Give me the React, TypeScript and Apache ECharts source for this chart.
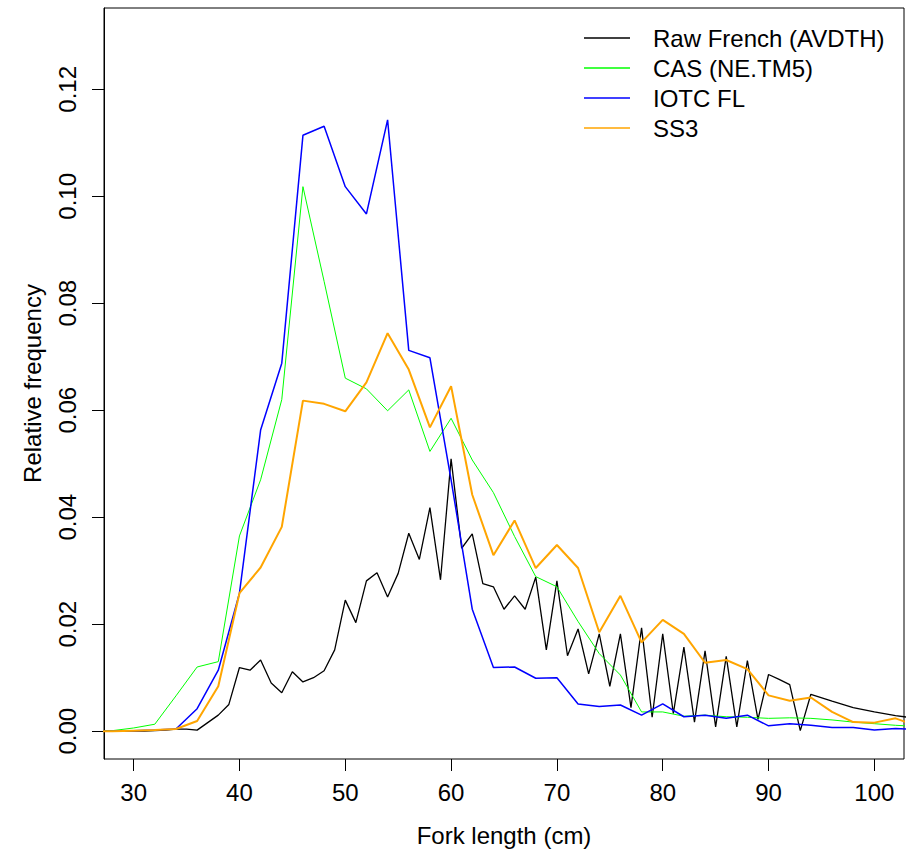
import React, { useEffect, useRef } from "react";
import * as echarts from "echarts";

// Fork length (cm) at 1 cm resolution for the raw French samples
const rawLengths = [
  26, 27, 28, 29, 30, 31, 32, 33, 34, 35, 36, 37, 38, 39, 40, 41, 42, 43, 44, 45,
  46, 47, 48, 49, 50, 51, 52, 53, 54, 55, 56, 57, 58, 59, 60, 61, 62, 63, 64, 65,
  66, 67, 68, 69, 70, 71, 72, 73, 74, 75, 76, 77, 78, 79, 80, 81, 82, 83, 84, 85,
  86, 87, 88, 89, 90, 91, 92, 93, 94, 96, 98, 100, 102, 104,
];
const rawFrench = [
  0, 0, 0, 0, 0, 0, 0.0001, 0.0002, 0.0004, 0.0004, 0.0002, 0.0016, 0.003, 0.005, 0.0119, 0.0114, 0.0133, 0.009, 0.0072, 0.0111,
  0.0092, 0.01, 0.0113, 0.0152, 0.0245, 0.0203, 0.0281, 0.0296, 0.0251, 0.0295, 0.037, 0.0321, 0.0418, 0.0283, 0.0509, 0.0342, 0.0369, 0.0276, 0.027, 0.0228,
  0.0253, 0.0228, 0.0288, 0.0152, 0.0281, 0.0141, 0.0191, 0.0107, 0.0182, 0.0084, 0.0182, 0.0044, 0.0193, 0.0026, 0.0182, 0.0033, 0.0157, 0.0017, 0.015, 0.0008,
  0.014, 0.0008, 0.0132, 0.0022, 0.0106, 0.0097, 0.0087, 0.0001, 0.0069, 0.0056, 0.0044, 0.0036, 0.0029, 0.0024,
];

// Fork length (cm) at 2 cm resolution for the other estimates
const binLengths = [
  26, 28, 30, 32, 34, 36, 38, 40, 42, 44, 46, 48, 50, 52, 54, 56, 58, 60, 62, 64,
  66, 68, 70, 72, 74, 76, 78, 80, 82, 84, 86, 88, 90, 92, 94, 96, 98, 100, 102, 104,
];
const casNeTm5 = [
  0, 0.0001, 0.0006, 0.0013, 0.0066, 0.012, 0.013, 0.0365, 0.047, 0.062, 0.1018, 0.0841, 0.066, 0.064, 0.0599, 0.0638, 0.0523, 0.0585, 0.0507, 0.0446,
  0.0364, 0.0289, 0.027, 0.0205, 0.0145, 0.0105, 0.0036, 0.0036, 0.0028, 0.003, 0.0027, 0.0026, 0.0024, 0.0025, 0.0024, 0.0021, 0.0017, 0.0014, 0.0011, 0.0009,
];
const iotcFl = [
  0, 0, 0.0001, 0.0002, 0.0004, 0.0042, 0.0114, 0.0258, 0.0563, 0.0688, 0.1114, 0.1131, 0.1018, 0.0967, 0.1143, 0.0712, 0.0698, 0.047, 0.0228, 0.0119,
  0.012, 0.0099, 0.01, 0.0051, 0.0046, 0.0049, 0.003, 0.0051, 0.0027, 0.003, 0.0024, 0.003, 0.001, 0.0014, 0.0011, 0.0007, 0.0007, 0.0002, 0.0005, 0.0003,
];
const ss3 = [
  0, 0, 0.0001, 0.0002, 0.0004, 0.0019, 0.0084, 0.0258, 0.0306, 0.0382, 0.0618, 0.0612, 0.0598, 0.0652, 0.0744, 0.0676, 0.0568, 0.0645, 0.0442, 0.0329,
  0.0394, 0.0305, 0.0348, 0.0305, 0.0185, 0.0253, 0.0166, 0.0208, 0.0182, 0.0128, 0.0133, 0.0116, 0.0067, 0.0057, 0.0063, 0.0036, 0.0017, 0.0016, 0.0024, 0.001,
];

const xTicks = [30, 40, 50, 60, 70, 80, 90, 100];
const yTicks = [0, 0.02, 0.04, 0.06, 0.08, 0.1, 0.12];
const X_MIN = 27.2;
const X_MAX = 102.8;
const Y_MIN = -0.0052;
const Y_MAX = 0.1352;

const FONT = "'Liberation Sans', Arial, Helvetica, sans-serif";
const TICK_LEN = 12;

const pairs = (xs: number[], ys: number[]) => xs.map((x, i) => [x, ys[i]]);

export default function App() {
  const ref = useRef<HTMLDivElement>(null);
  useEffect(() => {
    if (!ref.current) return;
    const chart = echarts.init(ref.current, null, { renderer: "svg" });
    const mk = (name: string, xs: number[], ys: number[], color: string, width: number) => ({
      name,
      type: "line",
      xAxisIndex: 0,
      yAxisIndex: 0,
      data: pairs(xs, ys),
      symbol: "none",
      showSymbol: false,
      clip: true,
      lineStyle: { color, width },
      itemStyle: { color },
    });
    chart.setOption({
      animation: false,
      textStyle: { fontFamily: FONT },
      grid: [
        {
          left: 104,
          right: 2,
          top: 8,
          bottom: 100,
          show: true,
          borderColor: "#000",
          borderWidth: 1,
          backgroundColor: "transparent",
        },
        // second grid reaching down over the tick band, carrying the bottom axis
        {
          left: 104,
          right: 2,
          top: 8,
          bottom: 100 - TICK_LEN,
          show: false,
        },
      ],
      legend: {
        orient: "vertical",
        left: 584,
        top: 26,
        padding: 0,
        icon: "rect",
        itemWidth: 46,
        itemHeight: 1.5,
        itemGap: 6,
        data: ["Raw French (AVDTH)", "CAS (NE.TM5)", "IOTC FL", "SS3"],
        textStyle: {
          fontFamily: FONT,
          fontSize: 24,
          lineHeight: 24,
          color: "#000",
          padding: [0, 0, 0, 18],
        },
      },
      xAxis: [
        {
          gridIndex: 0,
          type: "value",
          min: X_MIN,
          max: X_MAX,
          show: false,
          axisLine: { show: false, onZero: false },
          splitLine: { show: false },
        },
        {
          gridIndex: 1,
          type: "value",
          min: X_MIN,
          max: X_MAX,
          name: "Fork length (cm)",
          nameLocation: "middle",
          nameGap: 52,
          nameTextStyle: { fontFamily: FONT, fontSize: 24, color: "#000" },
          axisLine: { show: false, onZero: false },
          splitLine: { show: false },
          axisTick: {
            show: true,
            inside: true,
            length: TICK_LEN,
            customValues: xTicks,
            lineStyle: { color: "#000", width: 1 },
          },
          axisLabel: {
            customValues: xTicks,
            margin: 9,
            fontFamily: FONT,
            fontSize: 24,
            color: "#000",
          },
        },
      ],
      yAxis: [
        {
          gridIndex: 0,
          type: "value",
          min: Y_MIN,
          max: Y_MAX,
          name: "Relative frequency",
          nameLocation: "middle",
          nameRotate: 90,
          nameGap: 60,
          nameTextStyle: { fontFamily: FONT, fontSize: 24, color: "#000" },
          axisLine: { show: true, onZero: false, lineStyle: { color: "#000", width: 1 } },
          splitLine: { show: false },
          axisTick: {
            show: true,
            inside: false,
            length: TICK_LEN,
            customValues: yTicks,
            lineStyle: { color: "#000", width: 1 },
          },
          axisLabel: {
            customValues: yTicks,
            rotate: 90,
            margin: 25,
            fontFamily: FONT,
            fontSize: 24,
            color: "#000",
            formatter: (v: number) => v.toFixed(2),
          },
        },
        {
          gridIndex: 1,
          type: "value",
          min: 0,
          max: 1,
          show: false,
          splitLine: { show: false },
        },
      ],
      series: [
        mk("Raw French (AVDTH)", rawLengths, rawFrench, "#000000", 1.3),
        mk("CAS (NE.TM5)", binLengths, casNeTm5, "#00ff00", 1),
        mk("IOTC FL", binLengths, iotcFl, "#0000ff", 1.5),
        mk("SS3", binLengths, ss3, "#ffa500", 2),
      ],
    });
    return () => chart.dispose();
  }, []);
  return (
    <div
      ref={ref}
      style={{ position: "fixed", left: 0, top: 0, width: 906, height: 859, background: "#fff" }}
    />
  );
}
